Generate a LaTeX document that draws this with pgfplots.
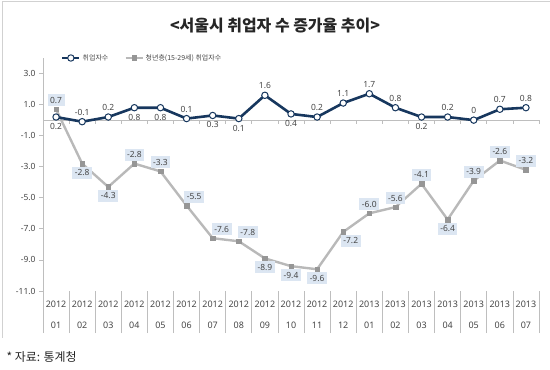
\documentclass[border=0pt]{standalone}
\usepackage{pgfplots}
\pgfplotsset{compat=1.18}
\usepackage{pgfplotstable}
\usepackage{fontspec}
\setmainfont{Noto Sans}
\newfontfamily\kr{Noto Sans CJK KR}
\definecolor{navy}{RGB}{23,55,94}
\definecolor{lgray}{RGB}{185,185,185}
\definecolor{mgray}{RGB}{150,150,150}
\definecolor{txt}{RGB}{70,70,70}
\definecolor{boxc}{RGB}{220,230,242}
\definecolor{axc}{RGB}{190,190,190}

% label anchors (angle) per point
\def\anchB{{90,-90,-90,90,90,-90,90,90,-90,90,-90,-90,-90,-90,90,-90,-90,-90,-90}}
\def\anchG{{-90,90,90,-90,-90,-130,-135,-135,90,90,90,130,-90,-90,-90,90,-90,-90,-90}}

\pgfplotstableread{
x y l
0 0.2 0.2
1 -0.1 -0.1
2 0.2 0.2
3 0.8 0.8
4 0.8 0.8
5 0.1 0.1
6 0.3 0.3
7 0.1 0.1
8 1.6 1.6
9 0.4 0.4
10 0.2 0.2
11 1.1 1.1
12 1.7 1.7
13 0.8 0.8
14 0.2 0.2
15 0.2 0.2
16 0 0
17 0.7 0.7
18 0.8 0.8
}\tblue

\pgfplotstableread{
x y l
0 0.7 0.7
1 -2.8 -2.8
2 -4.3 -4.3
3 -2.8 -2.8
4 -3.3 -3.3
5 -5.5 -5.5
6 -7.6 -7.6
7 -7.8 -7.8
8 -8.9 -8.9
9 -9.4 -9.4
10 -9.6 -9.6
11 -7.2 -7.2
12 -6.0 -6.0
13 -5.6 -5.6
14 -4.1 -4.1
15 -6.4 -6.4
16 -3.9 -3.9
17 -2.6 -2.6
18 -3.2 -3.2
}\tgray

\begin{document}
\begin{tikzpicture}
\useasboundingbox (0,0) rectangle (550bp,370bp);
\draw[draw=black!18, line width=0.8bp] (2bp,32bp) -- (2bp,369bp) -- (550bp,369bp);
\node[font=\kr\bfseries\fontsize{16}{18}\selectfont, text=black!85] at (275bp,344bp) {<서울시 취업자 수 증가율 추이>};
\node[font=\kr\fontsize{12}{14}\selectfont, anchor=west, text=black!85] at (3bp,13bp) {* 자료: 통계청};
\begin{axis}[
  at={(43bp,79bp)}, anchor=south west,
  scale only axis, width=496bp, height=233bp,
  xmin=-0.5, xmax=18.5, ymin=-11, ymax=4,
  clip=false,
  axis lines*=left, axis line style={-},
  x axis line style={draw=none},
  y axis line style={draw=axc, line width=0.8bp},
  tick align=outside, major tick length=4bp,
  ytick={-11,-9,-7,-5,-3,-1,1,3},
  ytick style={draw=axc, line width=0.8bp},
  yticklabel style={font=\fontsize{8.5}{10}\selectfont, text=txt},
  /pgf/number format/.cd, fixed, fixed zerofill, precision=1, assume math mode=true, /pgfplots/.cd,
  xtick={0,...,18},
  xticklabels={{2012\\01},{2012\\02},{2012\\03},{2012\\04},{2012\\05},{2012\\06},{2012\\07},{2012\\08},{2012\\09},{2012\\10},{2012\\11},{2012\\12},{2013\\01},{2013\\02},{2013\\03},{2013\\04},{2013\\05},{2013\\06},{2013\\07}},
  xtick style={draw=none},
  xticklabel style={align=center, font=\fontsize{9}{22}\selectfont, text=txt, anchor=north, yshift=-2bp},
  extra x ticks={-0.5,0.5,...,18.5},
  extra x tick labels={},
  extra x tick style={major tick length=42bp, xtick style={draw=axc, line width=0.8bp}},
  extra y ticks={0}, extra y tick labels={},
  extra y tick style={grid=major, major grid style={draw=axc, line width=0.8bp}, ytick style={draw=none}},
  legend style={at={(0.03,1.0)}, anchor=west, draw=none, fill=none,
    font=\kr\fontsize{7}{8}\selectfont, text=txt, legend columns=2,
    /tikz/every even column/.append style={column sep=14bp}},
]
\addlegendimage{navy, line width=2.6bp, mark=*, mark size=3.2bp, mark options={fill=white, draw=navy, line width=1bp}}
\addlegendentry{취업자수}
\addlegendimage{lgray, line width=2.4bp, mark=square*, mark size=2.3bp, mark options={fill=mgray, draw=mgray, line width=0.4bp}}
\addlegendentry{청년층(15-29세) 취업자수}
\pgfplotsinvokeforeach{0.5,1.5,...,18.5}{\draw[axc, line width=0.8bp] (axis cs:#1,0) -- ([yshift=-3.5bp]axis cs:#1,0);}
\addplot[forget plot, lgray, line width=2.4bp, mark=square*, mark size=2.3bp,
  mark options={fill=mgray, draw=mgray, line width=0.4bp},
  nodes near coords, point meta=explicit symbolic,
  visualization depends on={\coordindex \as \idx},
  every node near coord/.append style={/utils/exec={\pgfmathtruncatemacro\ii{\idx}\pgfmathtruncatemacro\anch{\anchG[\ii]}},
    anchor=\anch, font=\fontsize{8.5}{10}\selectfont, text=txt,
    fill=boxc, inner xsep=2.5bp, inner ysep=3bp, outer sep=3bp, text height=6bp, text depth=0bp}]
  table[x=x, y=y, meta=l] {\tgray};
\addplot[forget plot, navy, line width=2.6bp, mark=*, mark size=3.2bp,
  mark options={fill=white, draw=navy, line width=1bp},
  nodes near coords, point meta=explicit symbolic,
  visualization depends on={\coordindex \as \idx},
  every node near coord/.append style={/utils/exec={\pgfmathtruncatemacro\ii{\idx}\pgfmathtruncatemacro\anch{\anchB[\ii]}},
    anchor=\anch, font=\fontsize{8.5}{10}\selectfont, text=txt,
    inner sep=1.5bp, outer sep=5bp, text height=6bp, text depth=0bp}]
  table[x=x, y=y, meta=l] {\tblue};
\end{axis}
\end{tikzpicture}
\end{document}
